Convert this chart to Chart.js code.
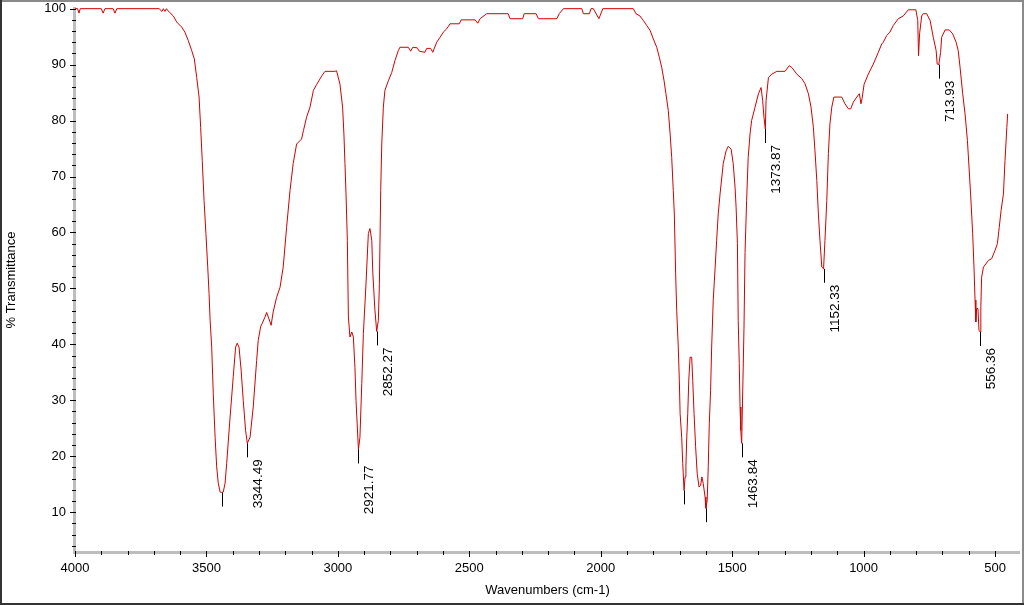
<!DOCTYPE html>
<html><head><meta charset="utf-8">
<script src="https://cdn.jsdelivr.net/npm/chart.js@4/dist/chart.umd.min.js"></script>
<style>html,body{margin:0;padding:0;background:#fff;}canvas{display:block;}</style>
</head><body>
<canvas id="c" width="1024" height="605"></canvas>
<script>
// ---- data ----
const wavenumbers = [4000,3990,3985,3980,3900,3893,3886,3855,3848,3841,3680,3669,3664,3658,3652,3646,3639,3626,3613,3594,3582,3569,3556,3546,3537,3528,3522,3516,3509,3502,3495,3490,3486,3480,3474,3467,3461,3455,3448,3442,3436,3429,3423,3410,3398,3389,3383,3376,3368,3360,3351,3344.49,3334,3322,3309,3303,3294,3277,3271,3258,3254,3246,3233,3220,3208,3195,3182,3170,3157,3138,3131,3119,3106,3093,3080,3061,3049,3011,3005,2992,2982,2977,2973,2969,2964,2960,2954,2947,2941,2935,2931,2921.77,2916,2909,2903,2893,2884,2878,2871,2867,2859,2852.27,2846,2842,2837,2833,2827,2821,2808,2795,2783,2770,2764,2732,2723,2715,2698,2690,2669,2662,2647,2639,2624,2611,2599,2586,2573,2538,2531,2478,2468,2459,2434,2352,2345,2297,2291,2246,2237,2167,2158,2142,2072,2066,2043,2037,2028,2007,1992,1876,1866,1851,1838,1825,1812,1800,1787,1777,1768,1759,1752,1743,1736,1730,1724,1720,1715,1711,1705,1701,1698,1692,1688,1683,1679,1676,1673,1669,1665,1660,1654,1650,1645,1639,1633,1626,1620,1615,1610,1603,1600,1595,1591,1587,1582,1578,1572,1565,1559,1553,1546,1534,1523,1515,1504,1496,1489,1485,1480,1477,1473,1470,1467,1463.84,1459,1455,1451,1445,1439,1432,1426,1413,1400,1390,1384,1379,1373.87,1371,1362,1349,1330,1299,1283,1273,1254,1235,1223,1210,1200,1191,1185,1178,1172,1166,1159,1152.33,1147,1140,1134,1128,1121,1113,1083,1071,1058,1049,1039,1026,1016,1010,1006,998,982,963,944,931,925,912,900,887,868,849,830,801,794,791,787,779,773,760,747,735,724,720,713.93,707,703,690,674,661,648,640,633,623,614,605,599,593,585,580,576,573,570,565,561,556.36,554,551,544,525,513,500,491,484,477,468,462,455,452];
const transmittance = [100,100,99.2,100,100,99.2,100,100,99.2,100,100,99.5,100,99.5,100,99.6,99.3,98.7,97.6,96.7,95.8,94.3,92.5,91.0,87.7,84.2,78.8,72.9,65.7,59.8,53.8,49.1,44.3,39.5,31.2,23.4,18.1,15.2,13.6,13.5,13.6,15.2,18.7,27.0,34.2,39.5,40.2,39.5,35.4,30.0,24.6,22.3,23.4,28.8,37.1,40.7,43.1,44.9,45.7,44.0,43.4,45.8,48.4,50.2,53.8,60.9,67.5,72.3,75.8,76.7,78.2,80.6,82.4,85.4,86.5,88.0,88.8,88.8,88.9,86.5,82.4,77.6,72.3,66.9,58.6,44.9,41.3,42.2,41.3,35.9,30.0,21.2,23.4,33.0,41.9,50.8,59.8,60.7,58.6,52.7,46.1,42.3,44.3,50.9,67.5,75.8,82.4,85.4,87.1,88.6,90.7,92.5,93.1,93.1,92.4,93.1,93.0,92.4,92.2,92.9,92.9,92.2,94.0,94.9,95.8,96.4,97.3,97.3,98.0,98.0,97.4,98.2,99.1,99.1,98.2,98.2,99.1,99.1,98.2,98.2,99.1,100,100,99.1,99.1,100,100,98.2,100,100,99.1,98.7,97.9,97.0,96.1,94.6,93.1,91.3,89.5,87.1,84.8,81.8,77.6,73.4,67.5,63.3,52.6,46.1,39.5,33.6,27.6,23.4,18.7,13.9,16.3,18.1,22.9,27.6,33.6,37.7,37.7,33.6,27.6,21.7,16.9,14.5,14.8,16.3,15.1,12.7,10.7,12.1,18.1,25.8,31.8,39.5,47.9,53.5,58.6,63.3,66.9,72.3,74.6,75.4,74.9,72.3,68.1,64.5,58.0,44.3,36.6,28.8,24.6,22.3,33.6,42.9,56.4,65.7,73.4,77.6,80.0,82.4,84.8,85.9,83.6,80.6,78.5,83.6,87.7,88.3,88.8,88.8,89.8,89.5,88.3,87.5,86.6,84.8,82.4,78.8,74.6,69.3,63.3,58.6,53.8,53.5,58.6,65.7,74.1,79.4,82.4,84.2,84.2,83.0,82.1,82.1,83.3,84.2,84.8,83.0,83.9,86.5,88.3,90.1,92.2,93.7,94.0,95.2,95.8,97.0,98.2,98.7,99.8,99.8,97.9,91.6,95.5,98.7,99.1,99.1,97.9,94.9,92.5,90.1,90.0,92.2,94.9,96.2,96.2,95.5,94.0,92.5,89.5,84.8,81.2,76.4,71.7,66.9,59.8,53.8,47.9,44.0,46.4,46.4,42.5,42.2,46.7,52.0,53.8,55.0,55.3,56.8,58.0,60.9,63.9,66.9,72.9,78.8,81.2];

const xTickValues = [4000,3500,3000,2500,2000,1500,1000,500];
const yTickValues = [10,20,30,40,50,60,70,80,90,100];

const peakWavenumbers   = [3442, 3344.49, 2921.77, 2852.27, 1683, 1600, 1463.84, 1373.87, 1152.33, 713.93, 556.36];
const peakTransmittance = [13.5, 22.3, 21.2, 42.3, 13.9, 10.7, 22.3, 78.5, 53.5, 90.0, 42.2];
const peakLabels        = ['', '3344.49', '2921.77', '2852.27', '', '', '1463.84', '1373.87', '1152.33', '713.93', '556.36'];

const xTitle = 'Wavenumbers (cm-1)';
const yTitle = '% Transmittance';

// ---- drawing ----
const FONT = '"Liberation Sans", Arial, sans-serif';
const points = wavenumbers.map((w, i) => ({x: w, y: transmittance[i]}));

const decorPlugin = {
  id: 'decor',
  beforeDatasetsDraw(chart) {
    const {ctx, chartArea: a} = chart;
    ctx.save();
    ctx.fillStyle = '#bdbdbd';
    ctx.fillRect(a.left - 2, a.top, 3, a.bottom - a.top + 1);
    ctx.fillRect(a.left - 2, a.bottom - 2, a.right - a.left + 2, 3);
    ctx.restore();
  },
  afterDraw(chart) {
    const {ctx, chartArea: a} = chart;
    const xs = chart.scales.x, ys = chart.scales.y;
    ctx.save();
    ctx.strokeStyle = '#000';
    ctx.lineWidth = 1;
    // x ticks
    for (let v = 4000; v >= xs.min; v -= 100) {
      const px = Math.round(xs.getPixelForValue(v)) + 0.5;
      const major = xTickValues.includes(v);
      ctx.beginPath();
      ctx.moveTo(px, a.bottom - 2);
      ctx.lineTo(px, a.bottom + (major ? 4 : 2));
      ctx.stroke();
    }
    // y ticks
    for (let v = 4; v <= ys.max; v += 2) {
      const py = Math.round(ys.getPixelForValue(v)) + 0.5;
      const major = yTickValues.includes(v);
      ctx.beginPath();
      ctx.moveTo(a.left + 1, py);
      ctx.lineTo(a.left - (major ? 5 : 3), py);
      ctx.stroke();
    }
    // peak annotations
    ctx.fillStyle = '#000';
    ctx.font = '13.5px ' + FONT;
    peakWavenumbers.forEach((w, i) => {
      const px = Math.round(xs.getPixelForValue(w)) + 0.5;
      const py = ys.getPixelForValue(peakTransmittance[i]);
      ctx.beginPath();
      ctx.moveTo(px, py);
      ctx.lineTo(px, py + 14);
      ctx.stroke();
      if (peakLabels[i]) {
        ctx.save();
        ctx.translate(px + 14, py + 16);
        ctx.rotate(-Math.PI / 2);
        ctx.textAlign = 'right';
        ctx.textBaseline = 'alphabetic';
        ctx.fillText(peakLabels[i], 0, 0);
        ctx.restore();
      }
    });
    // outer frame
    const W = chart.width, H = chart.height;
    ctx.fillStyle = '#8a8a8a';
    ctx.fillRect(0, 0, W, 2);
    ctx.fillRect(W - 2, 0, 2, H);
    ctx.fillStyle = '#333';
    ctx.fillRect(0, 0, 2, H);
    ctx.fillRect(0, H - 2, W, 2);
    ctx.restore();
  }
};

new Chart(document.getElementById('c'), {
  type: 'line',
  data: {
    datasets: [{
      data: points,
      borderColor: '#d00000',
      borderWidth: 1,
      pointRadius: 0,
      tension: 0,
      fill: false
    }]
  },
  options: {
    responsive: false,
    animation: false,
    devicePixelRatio: 1,
    layout: {padding: {top: 7, right: 4, left: 0, bottom: 0}},
    plugins: {legend: {display: false}, tooltip: {enabled: false}},
    scales: {
      x: {
        type: 'linear',
        reverse: true,
        min: 405,
        max: 4000,
        grid: {display: false, drawTicks: false},
        border: {display: false},
        afterBuildTicks: s => { s.ticks = xTickValues.map(v => ({value: v})); },
        afterFit: s => { s.height = 52; s.paddingLeft = 0; s.paddingRight = 0; },
        ticks: {color: '#000', font: {family: FONT, size: 13}, padding: 8, maxRotation: 0, autoSkip: false,
                callback: v => String(v)},
        title: {display: true, text: xTitle, color: '#000', font: {family: FONT, size: 13}, padding: {top: 0, bottom: 7}}
      },
      y: {
        type: 'linear',
        min: 2.7,
        max: 100.3,
        grid: {display: false, drawTicks: false},
        border: {display: false},
        afterBuildTicks: s => { s.ticks = yTickValues.map(v => ({value: v})); },
        afterFit: s => { s.width = 75; s.paddingTop = 0; s.paddingBottom = 0; },
        ticks: {color: '#000', font: {family: FONT, size: 13}, padding: 9, callback: v => String(v)},
        title: {display: true, text: yTitle, color: '#000', font: {family: FONT, size: 13}, padding: {top: 4, bottom: 0}}
      }
    }
  },
  plugins: [decorPlugin]
});
</script>
</body></html>
